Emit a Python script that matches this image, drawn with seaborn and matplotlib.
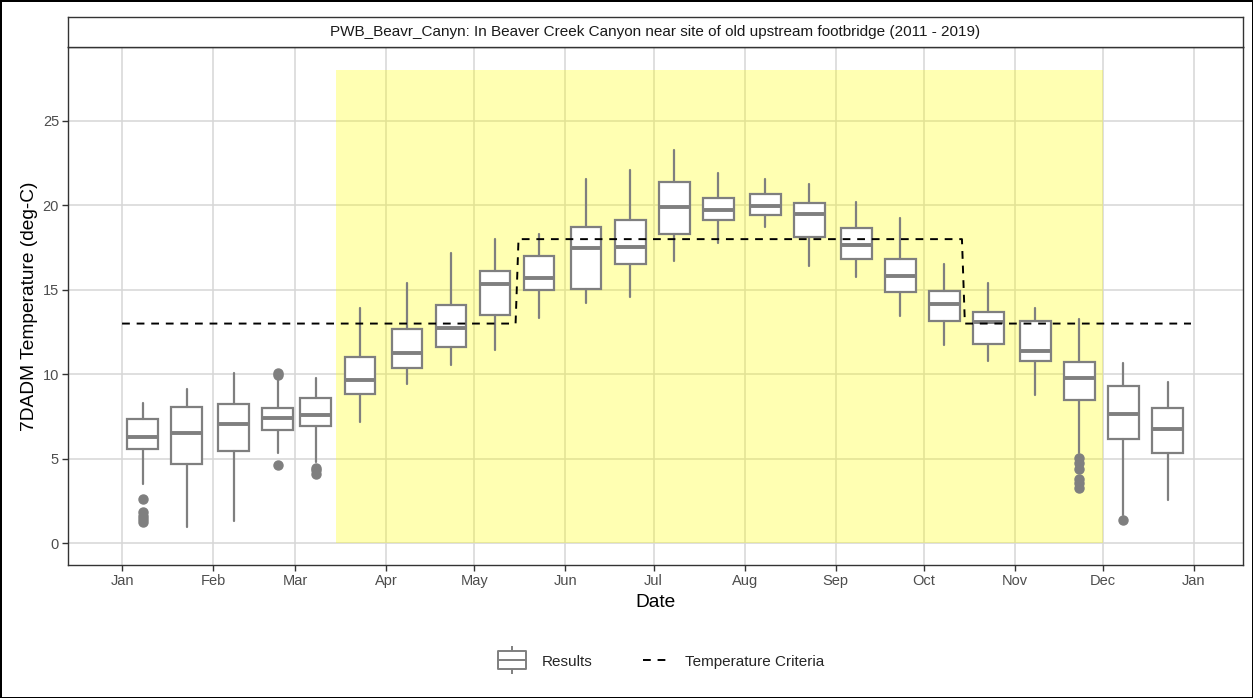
"""
Seasonal 7DADM temperature boxplots for PWB_Beavr_Canyn with temperature criteria.
"""

import numpy as np
import pandas as pd
import seaborn as sns
from matplotlib import pyplot as plt
from matplotlib.lines import Line2D
from matplotlib.path import Path

# half-month groups (month, day of box centre)
box_dates = ['01-08', '01-23', '02-08', '02-23', '03-08', '03-23',
             '04-08', '04-23', '05-08', '05-23', '06-08', '06-23',
             '07-08', '07-23', '08-08', '08-23', '09-08', '09-23',
             '10-08', '10-23', '11-08', '11-23', '12-08', '12-23']

whisker_low = [3.5, 0.95, 1.3, 5.35, 4.82, 7.2, 9.42, 10.55, 11.43, 13.35, 14.24, 14.56,
               16.71, 17.75, 18.7, 16.41, 15.78, 13.47, 11.73, 10.78, 8.77, 5.31, 1.66, 2.55]
q1 = [5.55, 4.66, 5.43, 6.7, 6.95, 8.81, 10.39, 11.64, 13.51, 14.99, 15.02, 16.51,
      18.31, 19.14, 19.43, 18.15, 16.81, 14.89, 13.17, 11.78, 10.78, 8.47, 6.16, 5.35]
median = [6.3, 6.5, 7.05, 7.43, 7.58, 9.66, 11.24, 12.76, 15.35, 15.72, 17.5, 17.56,
          19.89, 19.73, 19.99, 19.47, 17.65, 15.82, 14.14, 13.11, 11.39, 9.75, 7.62, 6.73]
q3 = [7.33, 8.08, 8.23, 7.98, 8.57, 11.0, 12.66, 14.1, 16.13, 17.02, 18.74, 19.14,
      21.37, 20.42, 20.68, 20.12, 18.64, 16.81, 14.95, 13.68, 13.17, 10.7, 9.3, 7.98]
whisker_high = [8.3, 9.1, 10.05, 9.75, 9.75, 13.9, 15.42, 17.2, 18.0, 18.3, 21.56, 22.1,
                23.28, 21.9, 21.55, 21.27, 20.18, 19.27, 16.53, 15.38, 13.9, 13.25, 10.64, 9.56]
outliers = [[2.6, 1.85, 1.6, 1.4, 1.25], [], [], [4.62, 9.95, 10.05], [4.45, 4.3, 4.1],
            [], [], [], [], [], [], [], [], [], [], [], [], [], [], [],
            [], [5.02, 4.76, 4.37, 3.77, 3.53, 3.24], [1.36], []]

# temperature criteria (step line)
criteria_dates = ['01-01', '05-15', '05-16', '10-14', '10-15', '12-31']
criteria_values = [13, 13, 18, 18, 13, 13]

# shaded season and its top
season_dates = ['03-15', '12-01']
season_top = 28

month_labels = ['Jan', 'Feb', 'Mar', 'Apr', 'May', 'Jun', 'Jul',
                'Aug', 'Sep', 'Oct', 'Nov', 'Dec', 'Jan']

title = 'PWB_Beavr_Canyn: In Beaver Creek Canyon near site of old upstream footbridge (2011 - 2019)'


def to_day(md):
    """Days since Jan 1 for a 'MM-DD' string."""
    return (pd.Timestamp(f'2019-{md}') - pd.Timestamp('2019-01-01')).days


def main():
    sns.set_theme(style='whitegrid')
    plt.rcParams['font.family'] = ['Liberation Sans', 'DejaVu Sans']

    grey = '#7f7f7f'
    fig = plt.figure(figsize=(12.53, 6.98), dpi=100)
    fig.patch.set_edgecolor('black')
    fig.patch.set_linewidth(2)

    ax = fig.add_axes([0.0543, 0.1905, 0.9377, 0.7422])
    ax.set_axisbelow(True)

    # shaded season
    s0, s1 = [to_day(d) for d in season_dates]
    ax.fill_between([s0, s1], 0, season_top, color='yellow', alpha=0.3, lw=0, zorder=1)

    # boxes
    positions = [to_day(d) for d in box_dates]
    stats = [dict(med=m, q1=a, q3=b, whislo=lo, whishi=hi, fliers=f)
             for m, a, b, lo, hi, f in zip(median, q1, q3, whisker_low, whisker_high, outliers)]
    ax.bxp(stats, positions=positions, widths=10.5, showcaps=False, patch_artist=True,
           manage_ticks=False, zorder=3,
           boxprops=dict(facecolor='white', edgecolor=grey, linewidth=1.6),
           whiskerprops=dict(color=grey, linewidth=1.6),
           medianprops=dict(color=grey, linewidth=2.8),
           flierprops=dict(marker='o', markerfacecolor=grey, markeredgecolor=grey, markersize=6.5))

    # criteria line
    crit = pd.DataFrame({'day': [to_day(d) for d in criteria_dates], 'value': criteria_values})
    sns.lineplot(data=crit, x='day', y='value', ax=ax, color='black', lw=1.4,
                 linestyle=(0, (4, 3.5)), sort=False, estimator=None, zorder=4)

    # axes
    ticks = [to_day(f'{m:02d}-01') for m in range(1, 13)] + [365]
    ax.set_xticks(ticks)
    ax.set_xticklabels(month_labels)
    ax.set_yticks([0, 5, 10, 15, 20, 25])
    ax.set_xlim(-18.4, 381.7)
    ax.set_ylim(-1.3, 29.38)
    ax.grid(True, color='#d6d6d6', lw=1.1)
    ax.tick_params(axis='both', which='major', length=4, width=1, color='#333333',
                   labelsize=10.5, labelcolor='#4d4d4d', pad=2.5, bottom=True, left=True)
    for sp in ax.spines.values():
        sp.set_color('#333333')
        sp.set_linewidth(1.0)
    ax.set_xlabel('Date', fontsize=13.8, color='black', labelpad=4)
    ax.set_ylabel('7DADM Temperature (deg-C)', fontsize=13.8, color='black', labelpad=3)

    # facet strip
    strip = fig.add_axes([0.0543, 0.9327, 0.9377, 0.0429])
    strip.set_facecolor('white')
    strip.set_xticks([])
    strip.set_yticks([])
    strip.grid(False)
    for sp in strip.spines.values():
        sp.set_color('#333333')
        sp.set_linewidth(1.0)
    strip.text(0.5, 0.5, title, ha='center', va='center', fontsize=11, color='#1a1a1a')

    # legend
    verts = [(-0.5, -0.32), (0.5, -0.32), (0.5, 0.32), (-0.5, 0.32), (0, 0),
             (-0.5, 0), (0.5, 0),
             (0, 0.32), (0, 0.5),
             (0, -0.32), (0, -0.5)]
    codes = [Path.MOVETO, Path.LINETO, Path.LINETO, Path.LINETO, Path.CLOSEPOLY,
             Path.MOVETO, Path.LINETO,
             Path.MOVETO, Path.LINETO,
             Path.MOVETO, Path.LINETO]
    box_marker = Path(verts, codes)
    handles = [
        Line2D([], [], linestyle='none', marker=box_marker, markersize=20,
               markerfacecolor='white', markeredgecolor=grey, markeredgewidth=1.4),
        Line2D([], [], color='black', lw=1.4, linestyle=(0, (4, 3.5))),
    ]
    fig.legend(handles, ['Results', 'Temperature Criteria'], loc='center',
               bbox_to_anchor=(0.528, 0.052), ncol=2, frameon=False, fontsize=11,
               handlelength=1.8, columnspacing=3.3, handletextpad=1.0)

    fig.savefig('out.png', dpi=100)


if __name__ == '__main__':
    main()
